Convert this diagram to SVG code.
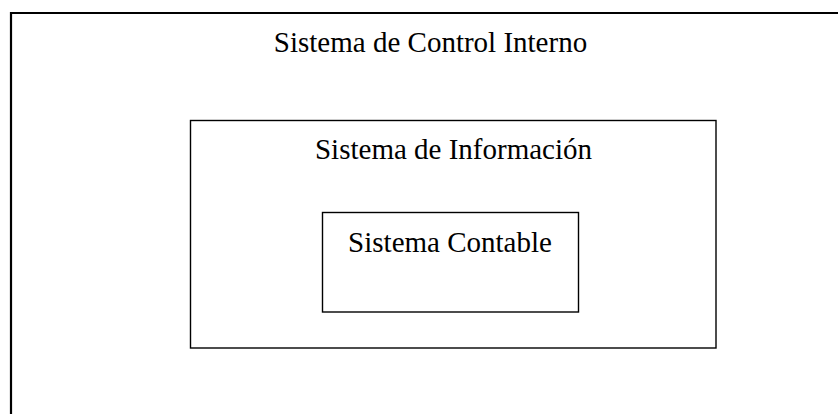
<svg xmlns="http://www.w3.org/2000/svg" width="838" height="414" viewBox="0 0 838 414">
<style>
.box{fill:none;stroke:#000;stroke-width:1.4}
.lbl{font-family:"Liberation Serif","Times New Roman",serif;font-size:29px;fill:#000;text-anchor:middle}
</style>
<rect width="838" height="414" fill="#fff"/>
<g id="control-interno">
<path d="M11,414 V13 H839" fill="none" stroke="#000" stroke-width="2.2"/>
<text class="lbl" x="430.5" y="52">Sistema de Control Interno</text>
</g>
<g id="informacion">
<rect class="box" x="190.5" y="120.5" width="525.5" height="227.5"/>
<text class="lbl" x="453.5" y="159">Sistema de Información</text>
</g>
<g id="contable">
<rect class="box" x="322.5" y="212.5" width="256" height="99.5"/>
<text class="lbl" x="450" y="252">Sistema Contable</text>
</g>
<g id="connectors"/>
</svg>
